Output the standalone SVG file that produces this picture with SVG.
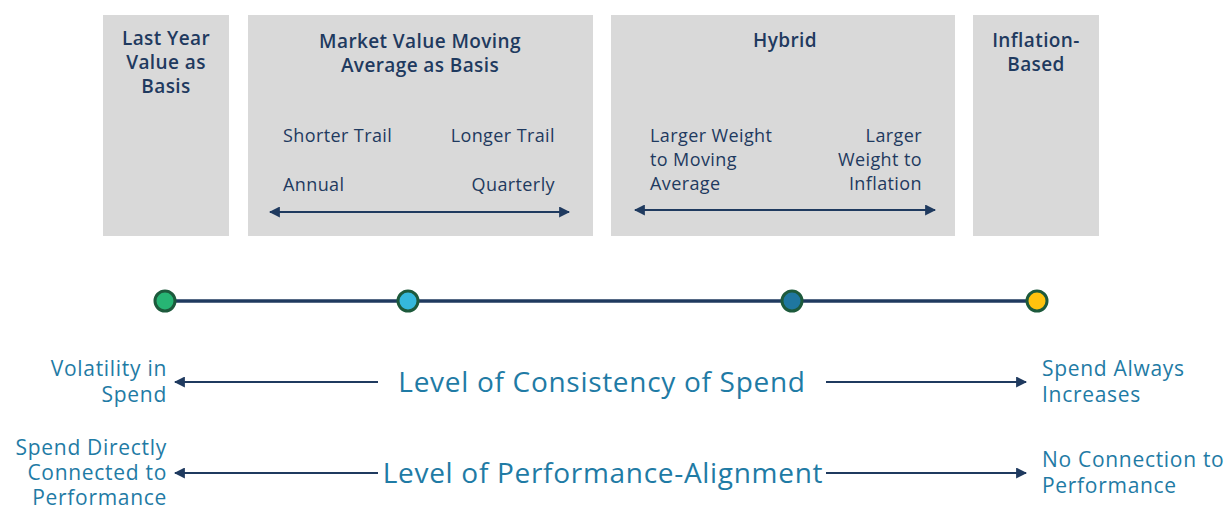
<svg xmlns="http://www.w3.org/2000/svg" width="1230" height="506" viewBox="0 0 1230 506">
<defs>
<style>
.box{fill:#d9d9d9}
.t{font-family:"Open Sans","Liberation Sans",sans-serif;font-size:18px;letter-spacing:0.4px;fill:#1f3a5f}
.tb{font-weight:600;font-size:19px;letter-spacing:0.4px}
.lab{font-family:"Open Sans","Liberation Sans",sans-serif;font-size:21px;letter-spacing:0.7px;fill:#1f7ba5}
.big{font-family:"Open Sans","Liberation Sans",sans-serif;font-size:28px;letter-spacing:0.7px;fill:#1f7ba5}
.ar{stroke:#1f3a5f;stroke-width:2;fill:none}
.dot{stroke:#1d5a3c;stroke-width:3}
</style>
<marker id="ah2" viewBox="0 0 10 10" refX="9" refY="5" markerWidth="11" markerHeight="11" orient="auto-start-reverse" markerUnits="userSpaceOnUse">
<path d="M0,0 L10,5 L0,10 z" fill="#1f3a5f"/>
</marker>
</defs>
<rect width="1230" height="506" fill="#ffffff"/>
<g id="box-last-year">
<rect class="box" x="103" y="15" width="126" height="221"/>
<text class="t tb" text-anchor="middle" x="166" y="45">Last Year</text>
<text class="t tb" text-anchor="middle" x="166" y="69">Value as</text>
<text class="t tb" text-anchor="middle" x="166" y="93">Basis</text>
</g>
<g id="box-market">
<rect class="box" x="248" y="15" width="345" height="221"/>
<text class="t tb" text-anchor="middle" x="420" y="48">Market Value Moving</text>
<text class="t tb" text-anchor="middle" x="420" y="72">Average as Basis</text>
<text class="t" x="283" y="142">Shorter Trail</text>
<text class="t" text-anchor="end" x="555" y="142">Longer Trail</text>
<text class="t" x="283" y="191">Annual</text>
<text class="t" text-anchor="end" x="555" y="191">Quarterly</text>
</g>
<g id="box-hybrid">
<rect class="box" x="611" y="15" width="344" height="221"/>
<text class="t tb" text-anchor="middle" x="785" y="47">Hybrid</text>
<text class="t" x="650" y="142">Larger Weight</text>
<text class="t" x="650" y="166">to Moving</text>
<text class="t" x="650" y="190">Average</text>
<text class="t" text-anchor="end" x="922" y="142">Larger</text>
<text class="t" text-anchor="end" x="922" y="166">Weight to</text>
<text class="t" text-anchor="end" x="922" y="190">Inflation</text>
</g>
<g id="box-inflation">
<rect class="box" x="973" y="15" width="126" height="221"/>
<text class="t tb" text-anchor="middle" x="1036" y="47">Inflation-</text>
<text class="t tb" text-anchor="middle" x="1036" y="71">Based</text>
</g>
<g id="connectors">
<line class="ar" x1="270" y1="212" x2="569" y2="212" marker-start="url(#ah2)" marker-end="url(#ah2)"/>
<line class="ar" x1="635" y1="210" x2="935" y2="210" marker-start="url(#ah2)" marker-end="url(#ah2)"/>
<line x1="165" y1="301" x2="1037" y2="301" stroke="#1f3a5f" stroke-width="3.5"/>
<line class="ar" x1="378" y1="382" x2="175" y2="382" marker-end="url(#ah2)"/>
<line class="ar" x1="826" y1="382" x2="1026" y2="382" marker-end="url(#ah2)"/>
<line class="ar" x1="378" y1="473" x2="175" y2="473" marker-end="url(#ah2)"/>
<line class="ar" x1="826" y1="473" x2="1026" y2="473" marker-end="url(#ah2)"/>
</g>
<g id="timeline-dots">
<circle class="dot" cx="165" cy="301" r="10" fill="#27b574"/>
<circle class="dot" cx="408" cy="301" r="10" fill="#35b8dc"/>
<circle class="dot" cx="792" cy="301" r="10" fill="#1f77a0"/>
<circle class="dot" cx="1037" cy="301" r="10" fill="#ffc20e"/>
</g>
<g id="row-consistency">
<text class="lab" text-anchor="end" x="167" y="376">Volatility in</text>
<text class="lab" text-anchor="end" x="167" y="402">Spend</text>
<text class="big" text-anchor="middle" x="602" y="392">Level of Consistency of Spend</text>
<text class="lab" x="1042" y="376">Spend Always</text>
<text class="lab" x="1042" y="402">Increases</text>
</g>
<g id="row-performance">
<text class="lab" text-anchor="end" x="167" y="455">Spend Directly</text>
<text class="lab" text-anchor="end" x="167" y="480">Connected to</text>
<text class="lab" text-anchor="end" x="167" y="505">Performance</text>
<text class="big" text-anchor="middle" x="603" y="483">Level of Performance-Alignment</text>
<text class="lab" x="1042" y="467">No Connection to</text>
<text class="lab" x="1042" y="493">Performance</text>
</g>
</svg>
